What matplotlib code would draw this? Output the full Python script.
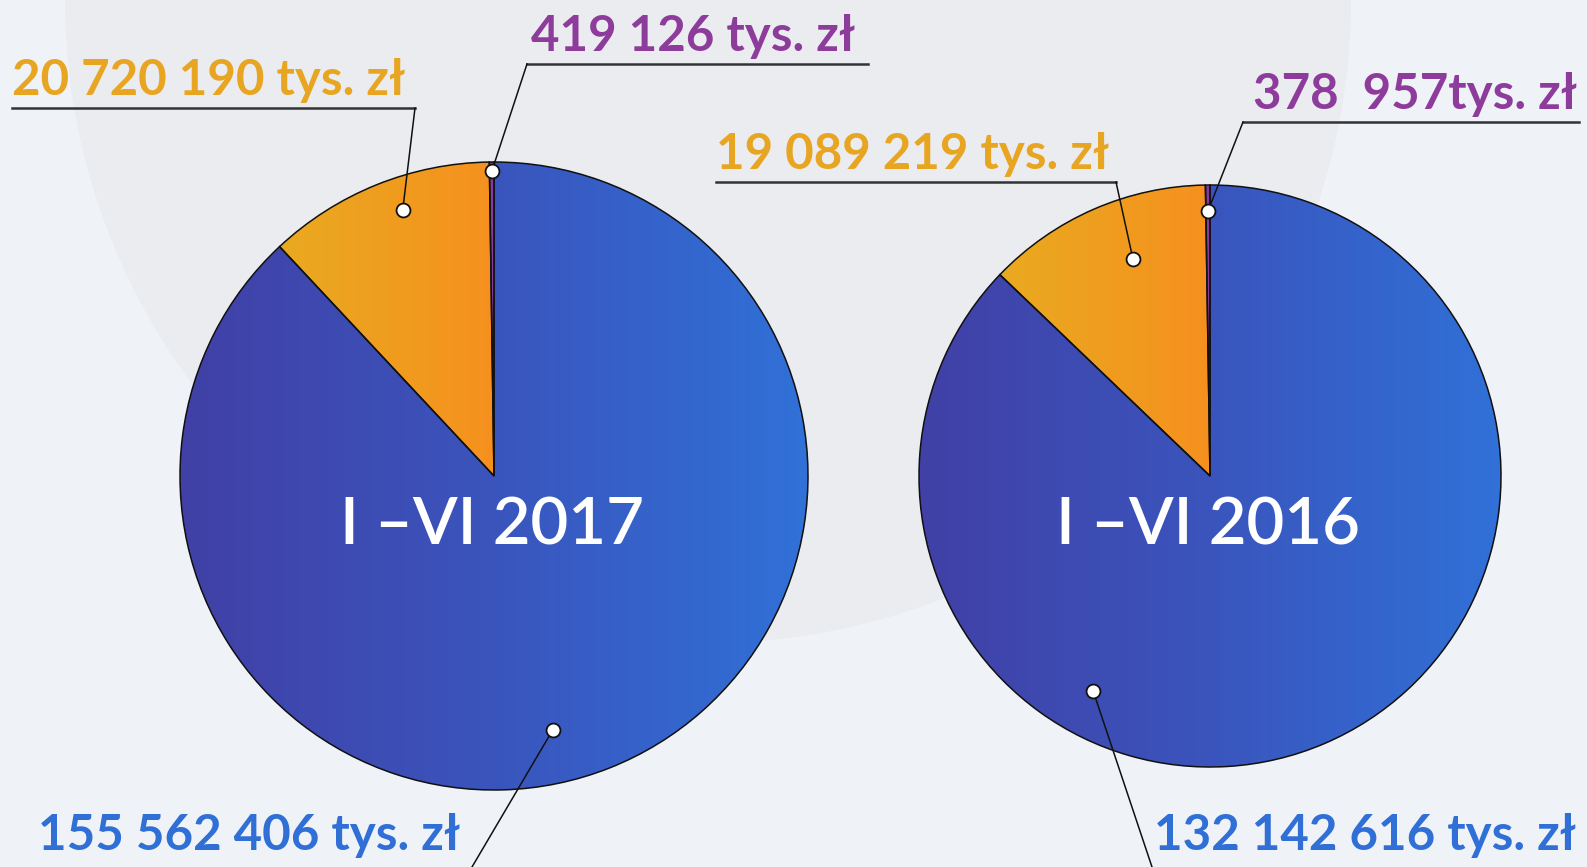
import numpy as np
import matplotlib
matplotlib.use("Agg")
import matplotlib.pyplot as plt
from matplotlib.patches import Wedge, Circle
from matplotlib.colors import LinearSegmentedColormap

# Dane (tys. zł)
periods = ["I –VI 2017", "I –VI 2016"]
blue_vals = [155562406, 132142616]
orange_vals = [20720190, 19089219]
purple_vals = [419126, 378957]
blue_labels = ["155 562 406 tys. zł", "132 142 616 tys. zł"]
orange_labels = ["20 720 190 tys. zł", "19 089 219 tys. zł"]
purple_labels = ["419 126 tys. zł", "378  957tys. zł"]

W, H = 1587, 867
plt.rcParams['font.family'] = ['Lato', 'DejaVu Sans']

fig = plt.figure(figsize=(W / 100, H / 100), dpi=100)
fig.patch.set_facecolor("#eff2f6")
ax = fig.add_axes([0, 0, 1, 1])
ax.set_xlim(0, W)
ax.set_ylim(0, H)
ax.set_aspect("equal")
ax.axis("off")

# tlo - delikatne kolo
ax.add_patch(Circle((708, H), 643, fc="#eaecf0", ec="none", zorder=0))

grads = {
    "blue": LinearSegmentedColormap.from_list("b", ["#4140a6", "#3a55bd", "#3071d8"]),
    "orange": LinearSegmentedColormap.from_list("o", ["#e9aa20", "#f6901e"]),
    "purple": LinearSegmentedColormap.from_list("p", ["#8a3aa0", "#8a3aa0"]),
}
txt_col = {"blue": "#2f6fd6", "orange": "#e8a521", "purple": "#8e3c9c"}

centers = [(494, 391), (1210, 391)]
radii = [314, 291]

# pozycje etykiet i kropek (przesuniecie kata wzgledem srodka wycinka, promien wzgledny)
layout = [
    {
        "orange": dict(tx=12, ty=H - 108, x1=12, x2=415, off=-3, rf=0.895),
        "purple": dict(tx=531, ty=H - 64, x1=527, x2=868, off=0, rf=0.97),
        "blue": dict(tx=38, ty=H - 850, end=(472, 0), off=-8.5, rf=0.83),
    },
    {
        "orange": dict(tx=716, ty=H - 182, x1=716, x2=1116, off=-4, rf=0.79),
        "purple": dict(tx=1253, ty=H - 122, x1=1243, x2=1579, off=0, rf=0.91),
        "blue": dict(tx=1154, ty=H - 850, end=(1152, 0), off=-51.7, rf=0.84),
    },
]

for i in range(2):
    cx, cy = centers[i]
    r = radii[i]
    vals = [blue_vals[i], orange_vals[i], purple_vals[i]]
    names = ["blue", "orange", "purple"]
    wedges, _ = ax.pie(vals, center=(cx, cy), radius=r, startangle=90,
                       counterclock=False, frame=True,
                       colors=["#3a55bd", "#f0a020", "#8a3aa0"],
                       wedgeprops=dict(linewidth=0))
    for w, nm in zip(wedges, names):
        w.set_zorder(2)
        verts = w.get_path().vertices
        xmin, xmax = verts[:, 0].min(), verts[:, 0].max()
        grad = np.linspace(0, 1, 256).reshape(1, -1)
        im = ax.imshow(grad, cmap=grads[nm], aspect="auto", zorder=3,
                       extent=(xmin, xmax, cy - r, cy + r))
        im.set_clip_path(w)
        ax.add_patch(Wedge((cx, cy), r, w.theta1, w.theta2, fc="none",
                           ec="#111111", lw=1.1, zorder=4))

    # opisy
    labels = {"blue": blue_labels[i], "orange": orange_labels[i], "purple": purple_labels[i]}
    for w, nm in zip(wedges, names):
        L = layout[i][nm]
        mid = (w.theta1 + w.theta2) / 2 + L["off"]
        dx = cx + L["rf"] * r * np.cos(np.radians(mid))
        dy = cy + L["rf"] * r * np.sin(np.radians(mid))
        if nm == "blue":
            ax.plot([dx, L["end"][0]], [dy, L["end"][1]], color="#111111", lw=1.1, zorder=5)
            ax.text(L["tx"], L["ty"], labels[nm], color=txt_col[nm], fontsize=35.5,
                    fontweight="bold", ha="left", va="baseline", zorder=6)
        else:
            # podkreslenie i linia do kropki
            lx = L["x2"] if nm == "orange" else L["x1"]
            ax.plot([L["x1"], L["x2"]], [L["ty"], L["ty"]], color="#333333", lw=1.8, zorder=5)
            ax.plot([lx, dx], [L["ty"], dy], color="#111111", lw=1.1, zorder=5)
            ax.text(L["tx"], L["ty"] + 13, labels[nm], color=txt_col[nm], fontsize=35.5,
                    fontweight="bold", ha="left", va="baseline", zorder=6)
        ax.plot(dx, dy, "o", ms=10, mfc="white", mec="#111111", mew=1.3, zorder=7)

    ax.text(cx - 2, cy - 50, periods[i], color="white", fontsize=47,
            fontweight="semibold", ha="center", va="center", zorder=6)

ax.set_xlim(0, W)
ax.set_ylim(0, H)
fig.savefig("out.png", dpi=100, facecolor=fig.get_facecolor())
